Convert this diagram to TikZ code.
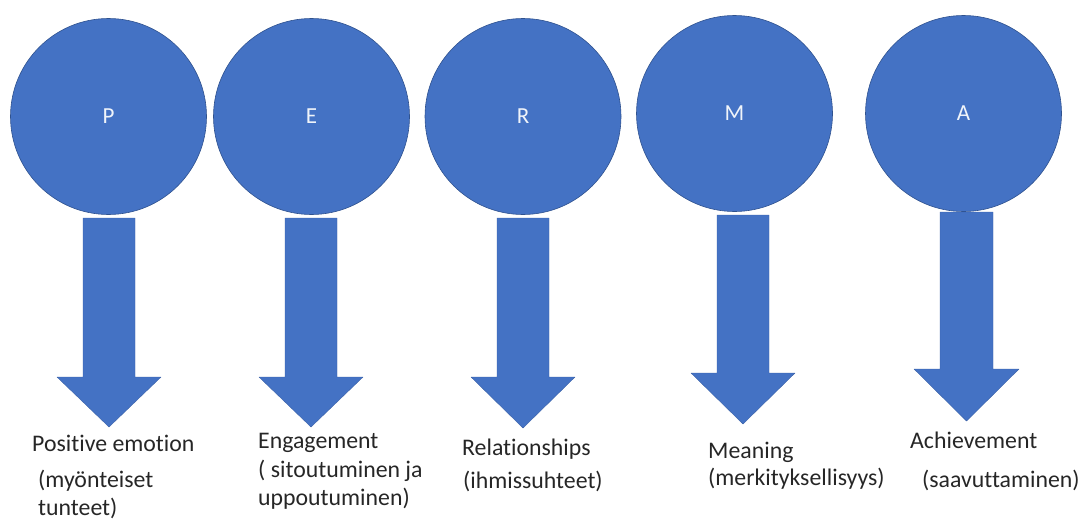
\documentclass[tikz,border=0pt]{standalone}
\usepackage{fontspec}
\setmainfont[Ligatures=NoCommon]{Carlito}
\usetikzlibrary{positioning}
\definecolor{pillarblue}{HTML}{4472C4}
\definecolor{pillaredge}{HTML}{2F528F}
\definecolor{captiongray}{HTML}{262626}

\begin{document}
\begin{tikzpicture}[x=1pt, y=-1pt, line cap=round, line join=round,
    pillar/.style={circle, fill=pillarblue, draw=pillaredge, line width=0.6pt,
      minimum size=196pt, inner sep=0pt, text=white!92!pillarblue,
      font=\fontsize{23}{27}\selectfont},
    blockarr/.style={fill=pillarblue, draw=pillarblue!85!black, line width=0.4pt},
    captxt/.style={anchor=base west, inner sep=0pt, text=captiongray,
      font=\fontsize{23.8}{28}\selectfont}]
  \useasboundingbox (0,0) rectangle (1083,520);
  % --- the five PERMA circles -----------------------------------------
  \node[pillar] (circP) at (108.5,116.5) {P};
  \node[pillar] (circE) at (311.5,116.5) {E};
  \node[pillar] (circR) at (523,116.5) {R};
  \node[pillar] (circM) at (734.5,113.5) {M};
  \node[pillar] (circA) at (963.5,113.5) {A};
  % --- block arrows below each circle --------------------------------
  \draw[blockarr] (83,218) -- (135,218) -- (135,377) -- (161,377)
     -- (109,427) coordinate (tipP) -- (57,377) -- (83,377) -- cycle;
  \draw[blockarr] (285,218) -- (337,218) -- (337,377) -- (363,377)
     -- (311,427) coordinate (tipE) -- (259,377) -- (285,377) -- cycle;
  \draw[blockarr] (497,218) -- (549,218) -- (549,377) -- (575,377)
     -- (523,428) coordinate (tipR) -- (471,377) -- (497,377) -- cycle;
  \draw[blockarr] (717,215) -- (769,215) -- (769,373) -- (795,373)
     -- (743,424) coordinate (tipM) -- (691,373) -- (717,373) -- cycle;
  \draw[blockarr] (940,212) -- (993,212) -- (993,369) -- (1019,369)
     -- (966.5,421) coordinate (tipA) -- (914,369) -- (940,369) -- cycle;
  % --- captions --------------------------------------------------------
  \node[captxt] (posEm) at (32,451) {Positive emotion};
  \node[captxt] (posFi1) at (38,487) {(myönteiset};
  \node[captxt] (posFi2) at (38,515) {tunteet)};
  \node[captxt] (engEn) at (258,448) {Engagement};
  \node[captxt] (engFi1) at (258,477) {( sitoutuminen ja};
  \node[captxt] (engFi2) at (258,505) {uppoutuminen)};
  \node[captxt] (relEn) at (462,455) {Relationships};
  \node[captxt] (relFi) at (463,488) {(ihmissuhteet)};
  \node[captxt] (meaEn) at (708,458) {Meaning};
  \node[captxt] (meaFi) at (708,485) {(merkityksellisyys)};
  \node[captxt] (achEn) at (910,448) {Achievement};
  \node[captxt] (achFi) at (922,487) {(saavuttaminen)};
\end{tikzpicture}
\end{document}
